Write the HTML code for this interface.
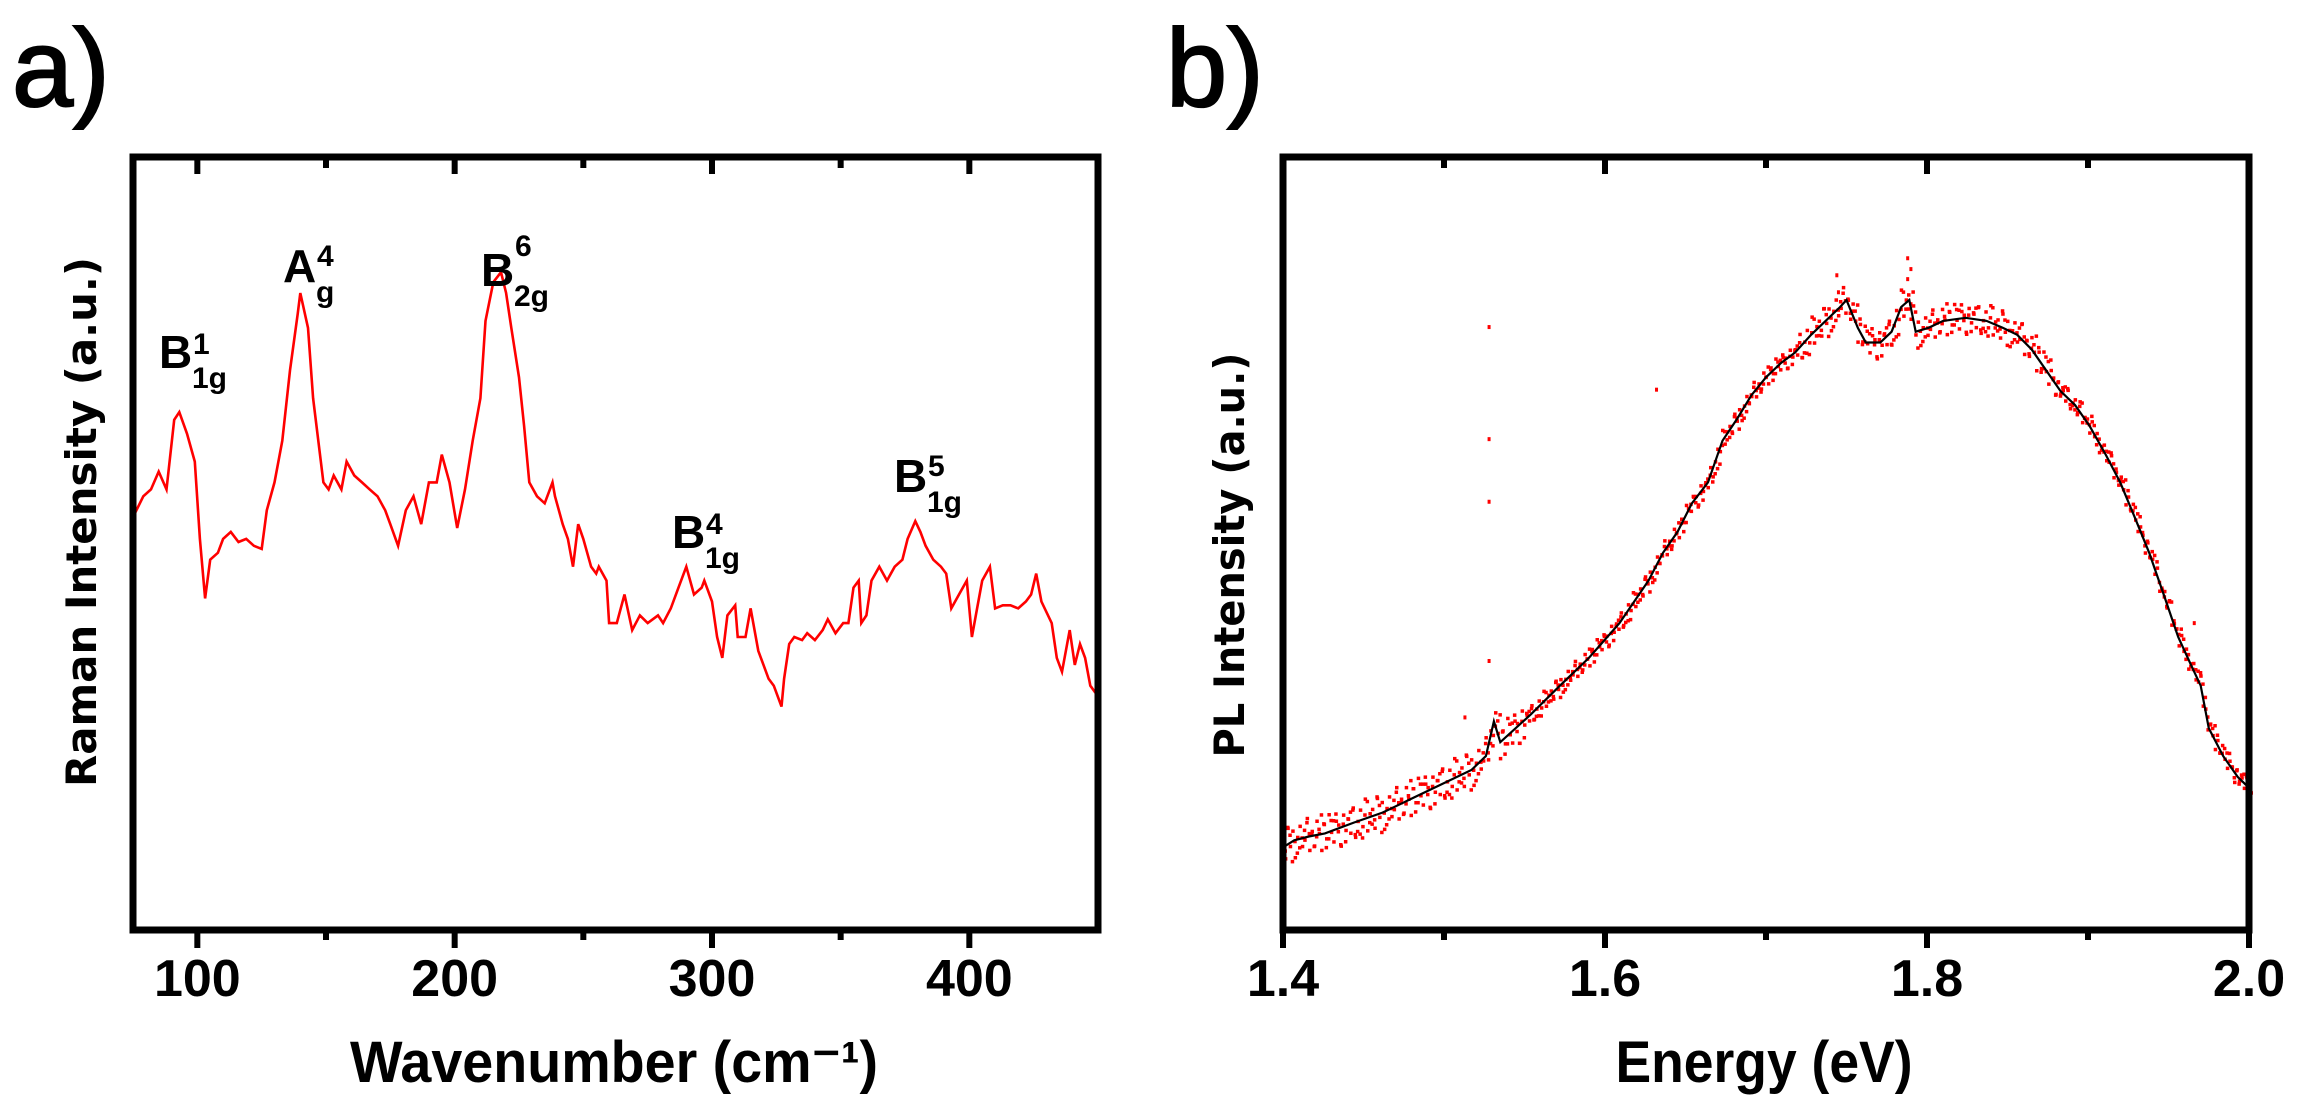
<!DOCTYPE html>
<html><head><meta charset="utf-8"><style>
html,body{margin:0;padding:0;background:#fff;}
svg{display:block;}
</style></head><body>
<svg id="fig" width="2307" height="1107" viewBox="0 0 2307 1107" xmlns="http://www.w3.org/2000/svg" font-family="'Liberation Sans', sans-serif">
<text x="12" y="106" font-size="110" fill="#000" stroke="#000" stroke-width="2">a)</text>
<text x="1166" y="106" font-size="110" fill="#000" stroke="#000" stroke-width="2">b)</text>
<g id="pa"></g>
<g id="pb"></g>
</svg>
<script>
// ---- Panel a data (Raman) ----
const ramanWavenumber = [75,79,82,85,88,91,93,96,99,101,103,105,108,110,113,116,119,122,125,127,130,133,136,139,140,143,145,149,151,153,156,158,161,164,167,170,173,175,178,181,184,187,190,193,195,198,201,204,207,210,212,215,218,220,222,225,227,229,232,235,238,239,242,244,246,248,250,253,255,256,259,260,263,266,269,272,275,279,281,284,287,290,293,296,297,300,302,304,306,309,310,313,315,318,320,322,324,327,328,330,332,335,337,340,343,345,348,351,353,355,357,358,360,362,365,368,371,374,376,379,381,383,386,389,391,393,396,399,401,403,405,408,410,413,416,419,422,424,426,428,432,434,436,439,441,443,445,447,449];
const ramanIntensity = [53.4,56.1,57,59.3,57,66,67,64.2,60.6,50.6,42.9,47.9,48.8,50.6,51.5,50.2,50.6,49.7,49.3,54.3,57.9,63.3,72.4,79.7,82.4,77.9,68.8,57.9,57,58.8,57,60.6,58.8,57.9,57,56.1,54.3,52.5,49.7,54.3,56.1,52.5,57.9,57.9,61.5,57.9,52,57,63.3,68.8,78.8,83.8,85.1,82.4,77.9,71.5,65.2,57.9,56.1,55.2,57.9,56.1,52.5,50.6,47,52.5,50.6,47,46.1,47,45.2,39.7,39.7,43.4,38.8,40.7,39.7,40.7,39.7,41.6,44.3,47,43.4,44.3,45.2,42.5,37.9,35.2,40.7,42,37.9,37.9,41.6,36.1,34.3,32.5,31.6,28.9,32.5,37,37.9,37.5,38.4,37.5,38.8,40.2,38.4,39.7,39.7,44.3,45.2,39.7,40.7,45.2,47,45.2,47,47.9,50.6,52.9,51.5,49.7,47.9,47,46.1,41.6,43.4,45.2,37.9,41.6,45.2,47,41.6,42,42,41.6,42.5,43.4,46.1,42.5,39.7,35.2,33.4,38.8,34.3,37,35.2,31.6,30.7];
const ramanTicks = [100,200,300,400];
const ramanMinorTicks = [150,250,350];
const ramanTickLabels = ["100","200","300","400"];

// ---- Panel b data (PL) ----
const plEnergy = [1.400,1.407,1.416,1.426,1.444,1.462,1.481,1.499,1.517,1.526,1.531,1.535,1.554,1.572,1.590,1.609,1.627,1.636,1.645,1.654,1.664,1.673,1.682,1.691,1.700,1.709,1.718,1.728,1.737,1.746,1.750,1.757,1.762,1.771,1.778,1.784,1.789,1.793,1.801,1.810,1.824,1.837,1.847,1.856,1.865,1.874,1.883,1.892,1.901,1.911,1.920,1.929,1.938,1.947,1.956,1.964,1.970,1.975,1.984,1.993,2.000];
const plFit = [10.7,11.6,12.1,12.5,13.9,15.2,17.1,18.9,20.7,22.5,27,24.3,27.9,31.6,35.2,39.7,45.2,48.8,51.5,55.2,57.9,63.3,66.1,69.2,71.5,73.3,74.7,77,78.8,80.6,81.5,77.9,76,76,77.4,80.6,81.5,77.4,77.9,78.8,79.2,78.8,77.9,77,75.1,72.4,69.7,67.9,65.2,61.5,57.9,53.4,48.8,43.4,37.9,34.3,31.6,26.1,22.5,19.8,18.4];
const plNoise = [0.6,-1.1,1.4,-0.3,0.9,-1.5,0.2,1.1,-0.7,-0.2,1.6,-1.2,0.4,-0.9,1.2,0.1,-1.4,0.8,-0.5,1.5,-0.1,-1.0,0.7,0.3,-1.6,1.0,-0.4,0.5,-0.8,1.3,-1.3,0.0,0.9,-0.6,1.7,-1.1,0.3];
const plOutlierE = [1.528,1.528,1.528,1.528,1.632,1.744,1.788,1.788,1.966,1.513,1.745,1.790];
const plOutlierI = [78,63.5,55.4,34.8,69.9,84.7,86.9,84.2,39.7,27.5,82.5,85.5];
const plTicks = [1.4,1.6,1.8,2.0];
const plMinorTicks = [1.5,1.7,1.9];
const plTickLabels = ["1.4","1.6","1.8","2.0"];

const NS = "http://www.w3.org/2000/svg";
function mk(parent, tag, attrs){
  const e = document.createElementNS(NS, tag);
  for (const k in attrs) e.setAttribute(k, attrs[k]);
  parent.appendChild(e);
  return e;
}
const TOP = 157, BOT = 930;
function yScale(v){ return BOT - (v/100)*(BOT-TOP); }

function axes(g, L, R, xs, ticks, minor, labels){
  const box = mk(g, 'rect', {x:L, y:TOP, width:R-L, height:BOT-TOP, fill:'none', stroke:'#000', 'stroke-width':7});
  
  
  ticks.forEach((t,i)=>{
    const x = xs(t);
    const tb = mk(g, 'line', {x1:x, x2:x, y1:BOT, y2:BOT+18, stroke:'#000', 'stroke-width':6});
    
    
    const tt = mk(g, 'line', {x1:x, x2:x, y1:TOP, y2:TOP+17, stroke:'#000', 'stroke-width':6});
    
    
    const lb = mk(g, 'text', {x:x, y:996, 'text-anchor':'middle', 'font-size':52, 'font-weight':'bold', fill:'#000'});
    lb.textContent = labels[i];
    
    
  });
  minor.forEach(t=>{
    const x = xs(t);
    const mb = mk(g, 'line', {x1:x, x2:x, y1:BOT, y2:BOT+10, stroke:'#000', 'stroke-width':6});
    
    
    const mt = mk(g, 'line', {x1:x, x2:x, y1:TOP, y2:TOP+11, stroke:'#000', 'stroke-width':6});
    
    
  });
}

// ---- Panel a ----
const ga = document.getElementById('pa');
const aL = 133, aR = 1098, aMin = 75, aMax = 450;
function xa(v){ return aL + (v-aMin)/(aMax-aMin)*(aR-aL); }
let d = '';
ramanWavenumber.forEach((w,i)=>{ d += (i?'L':'M') + xa(w).toFixed(1) + ' ' + yScale(ramanIntensity[i]).toFixed(1) + ' '; });
const ra = mk(ga, 'path', {d:d, fill:'none', stroke:'#ff0000', 'stroke-width':2.6, 'stroke-linejoin':'miter'});


axes(ga, aL, aR, xa, ramanTicks, ramanMinorTicks, ramanTickLabels);
const ya = mk(ga, 'text', {x:0, y:0, transform:'translate(96,522) rotate(-90)', 'text-anchor':'middle', 'font-size':42, 'font-weight':'bold', 'font-family':"'DejaVu Sans', sans-serif", textLength:530, lengthAdjust:'spacingAndGlyphs', fill:'#000'});
ya.textContent = 'Raman Intensity (a.u.)';


const xta = mk(ga, 'text', {x:614, y:1082, 'text-anchor':'middle', 'font-size':58, 'font-weight':'bold', textLength:528, lengthAdjust:'spacingAndGlyphs', fill:'#000'});
xta.textContent = 'Wavenumber (cm\u207B\u00B9)';



// peak labels
const peakMain = ['B','A','B','B','B'];
const peakSup = ['1','4','6','4','5'];
const peakSub = ['1g','g','2g','1g','1g'];
const peakX = [159,283,481,672,894];
const peakBase = [368,282,286,548,492];
const peakSupRaise = [14,16,30,14,16];
peakMain.forEach((m,i)=>{
  const t = mk(ga, 'text', {'font-weight':'bold', fill:'#000'});
  
  
  const x = peakX[i], b = peakBase[i];
  const s1 = mk(t, 'tspan', {x:x, y:b, 'font-size':46}); s1.textContent = m;
  const s2 = mk(t, 'tspan', {x:x+34, y:b-peakSupRaise[i], 'font-size':30}); s2.textContent = peakSup[i];
  const s3 = mk(t, 'tspan', {x:x+33, y:b+20, 'font-size':30}); s3.textContent = peakSub[i];
});

// ---- Panel b ----
const gb = document.getElementById('pb');
const bL = 1283, bR = 2249, bMin = 1.4, bMax = 2.0;
function xb(v){ return bL + (v-bMin)/(bMax-bMin)*(bR-bL); }
function interp(e){
  for (let i=1;i<plEnergy.length;i++){
    if (e <= plEnergy[i]){
      const f = (e-plEnergy[i-1])/(plEnergy[i]-plEnergy[i-1]);
      return plFit[i-1] + f*(plFit[i]-plFit[i-1]);
    }
  }
  return plFit[plFit.length-1];
}
const dots = mk(gb, 'g', {fill:'#ff0000'});


for (let k=0;k<=400;k++){
  const e = 1.4 + k*0.0015;
  const amp = e < 1.55 ? 1.5 : (e > 1.72 && e < 1.88 ? 1.3 : 0.8);
  const v = interp(e) + plNoise[k % plNoise.length]*amp;
  const v2 = interp(e) + plNoise[(k*7+3) % plNoise.length]*amp;
  mk(dots, 'rect', {x:(xb(e)-1.5).toFixed(1), y:(yScale(v)-1.5).toFixed(1), width:3.5, height:3.5});
  mk(dots, 'rect', {x:(xb(e)+0.5).toFixed(1), y:(yScale(v2)-1.5).toFixed(1), width:3.5, height:3.5});
}
plOutlierE.forEach((e,i)=>{
  const o = mk(dots, 'rect', {x:xb(e)-1.5, y:yScale(plOutlierI[i])-2, width:3, height:4});
  
  
});
let db = '';
plEnergy.forEach((e,i)=>{ db += (i?'L':'M') + xb(e).toFixed(1) + ' ' + yScale(plFit[i]).toFixed(1) + ' '; });
const pl = mk(gb, 'path', {d:db, fill:'none', stroke:'#000', 'stroke-width':2.2});


axes(gb, bL, bR, xb, plTicks, plMinorTicks, plTickLabels);
const yb = mk(gb, 'text', {x:0, y:0, transform:'translate(1244,555) rotate(-90)', 'text-anchor':'middle', 'font-size':42, 'font-weight':'bold', 'font-family':"'DejaVu Sans', sans-serif", textLength:405, lengthAdjust:'spacingAndGlyphs', fill:'#000'});
yb.textContent = 'PL Intensity (a.u.)';


const xtb = mk(gb, 'text', {x:1764, y:1082, 'text-anchor':'middle', 'font-size':58, 'font-weight':'bold', textLength:297, lengthAdjust:'spacingAndGlyphs', fill:'#000'});
xtb.textContent = 'Energy (eV)';


</script>
</body></html>
